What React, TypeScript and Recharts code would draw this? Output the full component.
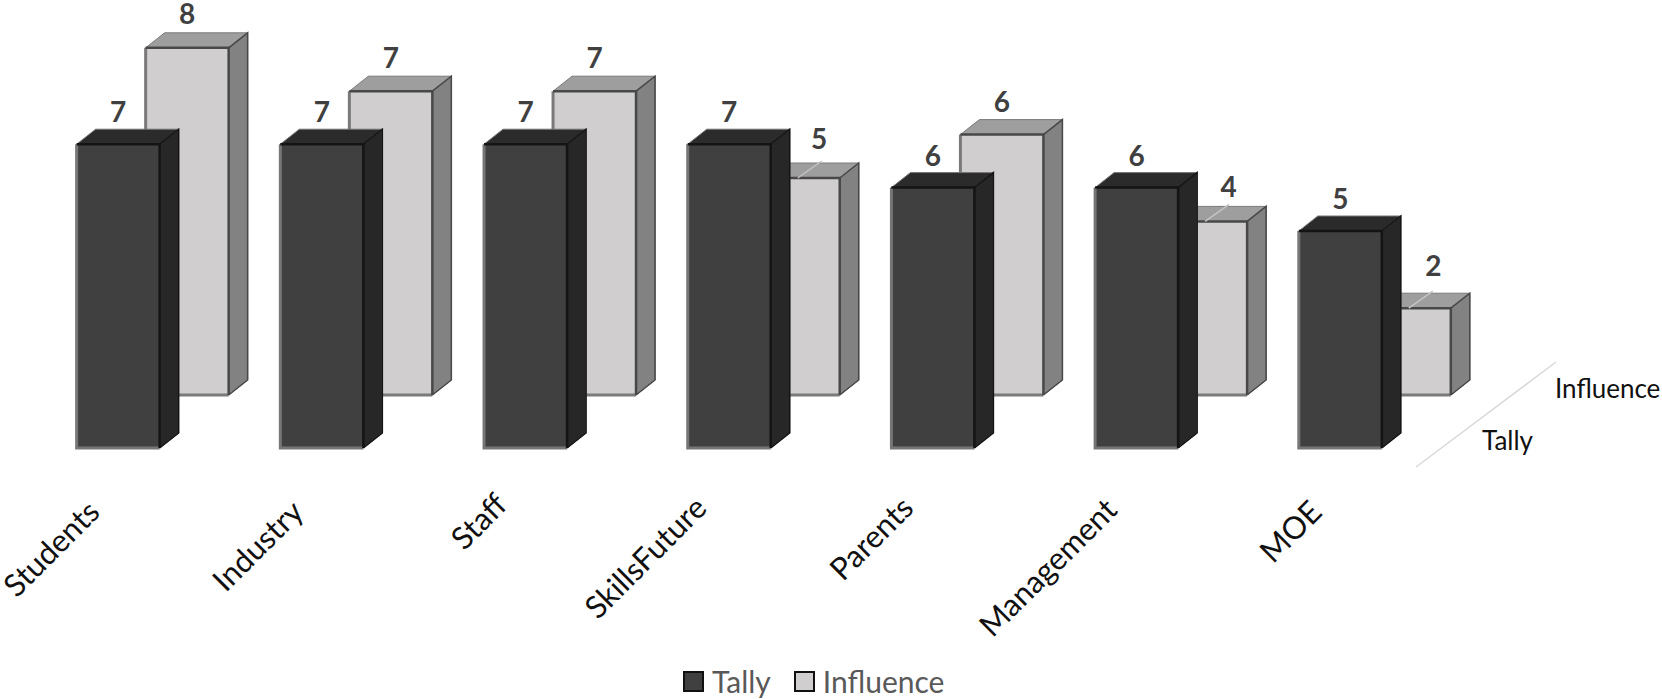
import { BarChart, Bar, XAxis, YAxis, LabelList, Legend } from "recharts";

const categories = ["Students", "Industry", "Staff", "SkillsFuture", "Parents", "Management", "MOE"];
const tallyValues = [7, 7, 7, 7, 6, 6, 5];
const influenceValues = [8, 7, 7, 5, 6, 4, 2];

const chartData = categories.map((name, i) => ({
  name,
  Tally: tallyValues[i],
  Influence: influenceValues[i],
}));

// Excel-style rotated labels don't sit at a regular distance from their bars
const tickNudgeX = [-17, -17, -17, -21, -18, -18, -17];
const tickNudgeY = [28, 28, 21, 24, 24, 26, 28];

// short back-row labels slide right so they clear the front bar
const influenceLabelNudgeX = [0, 0, 0, 21, 0, 23, 24];
const influenceLabelNudgeY = [-2, -1, -1, -7, -1, -2, -10];

const DEPTH_X = 19;
const DEPTH_Y = 15;
const FONT = "Lato, 'Open Sans', sans-serif";

const TALLY_COLORS = { front: "#404040", top: "#2b2b2b", side: "#272727", soft: "#767676", hard: "#141414" };
const INFLUENCE_COLORS = { front: "#d0cecf", top: "#9e9e9e", side: "#828282", soft: "#7a7a7a", hard: "#484848" };

type BoxColors = typeof TALLY_COLORS;

function Box3D(props: any, colors: BoxColors) {
  const { x, y, width, height, payload } = props;
  const right = x + width;
  const base = y + height;
  const showGridTrace = colors === INFLUENCE_COLORS && payload.Influence < payload.Tally;
  return (
    <g>
      <polygon
        points={`${right},${y} ${right + DEPTH_X},${y - DEPTH_Y} ${right + DEPTH_X},${base - DEPTH_Y} ${right},${base}`}
        fill={colors.side}
        stroke={colors.soft}
        strokeWidth={1}
      />
      <polygon
        points={`${x},${y} ${x + DEPTH_X},${y - DEPTH_Y} ${right + DEPTH_X},${y - DEPTH_Y} ${right},${y}`}
        fill={colors.top}
        stroke={colors.soft}
        strokeWidth={1}
      />
      <rect x={x} y={y} width={width} height={height} fill={colors.front} />
      <path d={`M${x},${y} V${base} H${right}`} fill="none" stroke={colors.soft} strokeWidth={3} />
      <path d={`M${x},${y} H${right} V${base}`} fill="none" stroke={colors.hard} strokeWidth={2.5} />
      <path d={`M${right},${y} L${right + DEPTH_X},${y - DEPTH_Y} V${base - DEPTH_Y} L${right},${base}`} fill="none" stroke={colors.hard} strokeWidth={1.5} />
      {showGridTrace && (
        <line x1={x + 41} y1={y} x2={x + 65} y2={y - 17} stroke="#c4c4c4" strokeWidth={1.5} />
      )}
    </g>
  );
}

function CategoryTick({ x, y, index, payload }: any) {
  const endX = x + tickNudgeX[index];
  const endY = y + tickNudgeY[index];
  return (
    <text
      x={endX}
      y={endY}
      textAnchor="end"
      transform={`rotate(-45 ${endX} ${endY})`}
      fontFamily={FONT}
      fontSize={31}
      fill="#111111"
    >
      {payload.value}
    </text>
  );
}

function InfluenceLabel({ x, y, width, value, index }: any) {
  return (
    <text
      x={x + width / 2 + influenceLabelNudgeX[index]}
      y={y - 22 + influenceLabelNudgeY[index]}
      textAnchor="middle"
      fontFamily={FONT}
      fontSize={28}
      fontWeight={700}
      fill="#404040"
    >
      {value}
    </text>
  );
}

function LegendContent() {
  const swatches = [
    { name: "Tally", fill: TALLY_COLORS.front },
    { name: "Influence", fill: INFLUENCE_COLORS.front },
  ];
  return (
    <div style={{ display: "flex", alignItems: "center", fontFamily: FONT, fontSize: 30, color: "#595959" }}>
      {swatches.map((s) => (
        <div key={s.name} style={{ display: "flex", alignItems: "center", marginRight: 23 }}>
          <span style={{ width: 17, height: 17, border: "2px solid #111", background: s.fill, marginRight: 8 }} />
          {s.name}
        </div>
      ))}
    </div>
  );
}

export default function App() {
  return (
    <div style={{ position: "absolute", left: 0, top: 0, width: 1662, height: 699, overflow: "hidden", background: "#fff" }}>
      <BarChart
        width={1662}
        height={699}
        data={chartData}
        margin={{ top: 14, right: 150, bottom: 191, left: 16 }}
        barSize={83}
      >
        <XAxis
          xAxisId="front"
          dataKey="name"
          height={60}
          padding={{ left: 0.65, right: 69.5 }}
          axisLine={false}
          tickLine={false}
          interval={0}
          tick={<CategoryTick />}
        />
        <XAxis xAxisId="back" dataKey="name" hide padding={{ left: 69.65, right: 0.5 }} />
        <YAxis yAxisId="front" hide domain={[0, 7]} padding={{ top: 130.2, bottom: 0 }} />
        <YAxis yAxisId="back" hide domain={[0, 8]} padding={{ top: 33.8, bottom: 53 }} />

        <Bar
          dataKey="Influence"
          xAxisId="back"
          yAxisId="back"
          isAnimationActive={false}
          shape={(p: any) => Box3D(p, INFLUENCE_COLORS)}
        >
          <LabelList dataKey="Influence" content={<InfluenceLabel />} />
        </Bar>
        <Bar
          dataKey="Tally"
          xAxisId="front"
          yAxisId="front"
          isAnimationActive={false}
          shape={(p: any) => Box3D(p, TALLY_COLORS)}
        >
          <LabelList dataKey="Tally" position="top" offset={22} fontFamily={FONT} fontSize={28} fontWeight={700} fill="#404040" />
        </Bar>

        {/* depth axis */}
        <line x1={1416} y1={467} x2={1556} y2={362} stroke="#d9d9d9" strokeWidth={1.5} />
        <text x={1555} y={398} fontFamily={FONT} fontSize={26} fill="#111111">Influence</text>
        <text x={1482} y={450} fontFamily={FONT} fontSize={26} fill="#111111">Tally</text>

        <Legend
          layout="horizontal"
          verticalAlign="middle"
          align="center"
          wrapperStyle={{ left: 683, top: 663, width: 340 }}
          content={<LegendContent />}
        />
      </BarChart>
    </div>
  );
}
